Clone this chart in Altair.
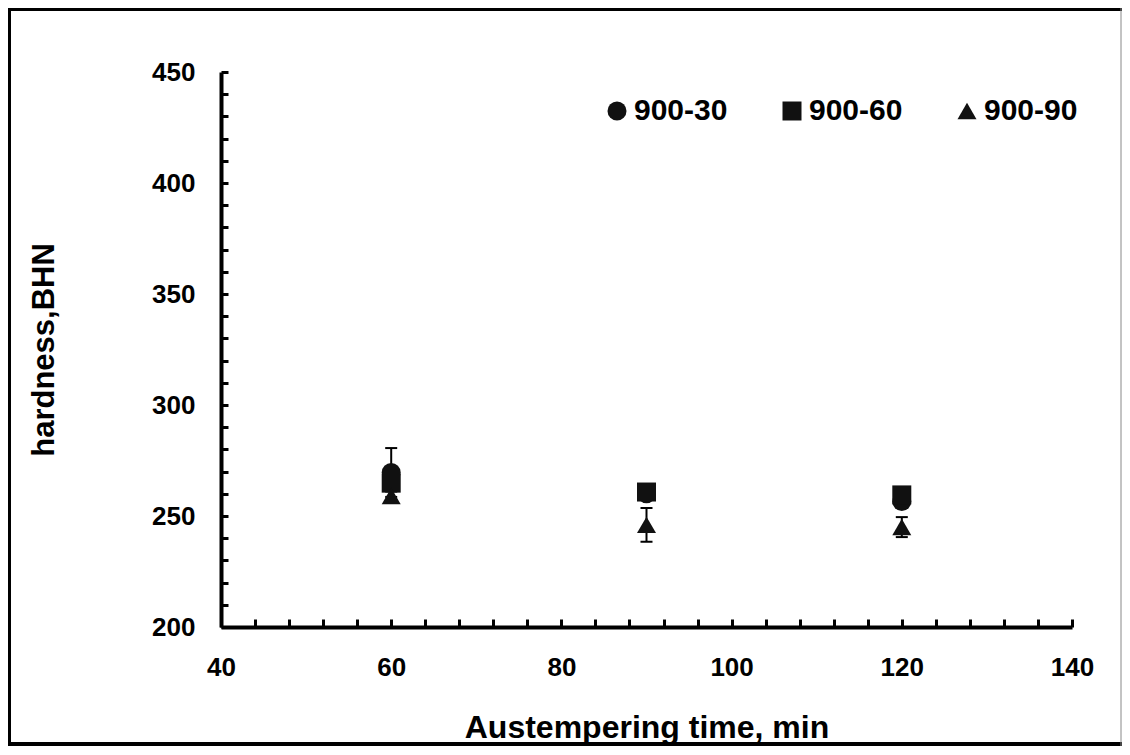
import altair as alt
import pandas as pd

# ---- data ----
times = [60, 90, 120]
series = ["900-30", "900-60", "900-90"]
h_900_30 = [269.6, 260.0, 256.5]
e_900_30 = [11.0, 2.0, 2.0]
h_900_60 = [264.8, 260.8, 259.5]
e_900_60 = [3.0, 2.0, 3.0]
h_900_90 = [259.0, 246.0, 245.0]
e_900_90 = [2.0, 7.6, 4.5]

x_label_ticks = [40, 60, 80, 100, 120, 140]
y_label_ticks = [200, 250, 300, 350, 400, 450]
x_minor_ticks = list(range(40, 141, 4))
y_minor_ticks = list(range(200, 451, 10))
shapes = ["circle", "square", "triangle-up"]

FONT = "Liberation Sans"
W, H = 851, 555

rows = []
for s, hs, es in zip(series, [h_900_30, h_900_60, h_900_90], [e_900_30, e_900_60, e_900_90]):
    for t, h, e in zip(times, hs, es):
        rows.append({"series": s, "time": t, "hardness": h, "low": h - e, "high": h + e})
df = pd.DataFrame(rows)
caps = pd.concat([
    df[["series", "time", "low"]].rename(columns={"low": "end"}),
    df[["series", "time", "high"]].rename(columns={"high": "end"}),
])

xs = alt.Scale(domain=[40, 140], nice=False, zero=False)
ys = alt.Scale(domain=[200, 450], nice=False, zero=False)

main_x_axis = alt.Axis(
    orient="bottom", values=x_label_ticks, grid=False, ticks=False, tickSize=0,
    domainColor="black", domainWidth=4, labelFont=FONT, labelFontSize=26,
    labelFontWeight="bold", labelColor="black", labelPadding=27, labelFlush=False,
    title="Austempering time, min", titleFont=FONT, titleFontSize=32,
    titleFontWeight="bold", titleColor="black", titleX=W / 2, titleY=110,
    titleBaseline="alphabetic", titleAnchor="middle", titleAlign="center",
)
main_y_axis = alt.Axis(
    orient="left", values=y_label_ticks, grid=False, ticks=False, tickSize=0,
    domainColor="black", domainWidth=4, labelFont=FONT, labelFontSize=26,
    labelFontWeight="bold", labelColor="black", labelPadding=26, labelFlush=False,
    title="hardness,BHN", titleFont=FONT, titleFontSize=31,
    titleFontWeight="bold", titleColor="black", titleX=-177, titleY=H / 2,
    titleAngle=-90, titleBaseline="middle", titleAlign="center",
)
tick_x_axis = alt.Axis(
    orient="top", offset=-H, values=x_minor_ticks, grid=False, labels=False,
    domain=False, ticks=True, tickSize=8, tickWidth=3, tickColor="black", title=None,
)
tick_y_axis = alt.Axis(
    orient="right", offset=-W, values=y_minor_ticks, grid=False, labels=False,
    domain=False, ticks=True, tickSize=7, tickWidth=3, tickColor="black", title=None,
)

err = alt.Chart(df).mark_rule(color="black", strokeWidth=2).encode(
    x=alt.X("time:Q", scale=xs, axis=main_x_axis),
    y=alt.Y("low:Q", scale=ys, axis=main_y_axis),
    y2="high:Q",
)
capmarks = alt.Chart(caps).mark_tick(orient="horizontal", size=12, thickness=2, color="black", opacity=1).encode(
    x=alt.X("time:Q", scale=xs, axis=tick_x_axis),
    y=alt.Y("end:Q", scale=ys, axis=tick_y_axis),
)
pts = alt.Chart(df).mark_point(filled=True, size=361, opacity=1, color="#111111").encode(
    x=alt.X("time:Q", scale=xs, axis=None),
    y=alt.Y("hardness:Q", scale=ys, axis=None),
    shape=alt.Shape(
        "series:N",
        scale=alt.Scale(domain=series, range=shapes),
        legend=alt.Legend(
            orient="none", legendX=381, legendY=24, direction="horizontal",
            title=None, labelFont=FONT, labelFontSize=30, labelFontWeight="bold",
            labelColor="black", symbolSize=361, symbolFillColor="black",
            symbolStrokeColor="black", symbolStrokeWidth=0, symbolOpacity=1,
            labelOffset=2, columnPadding=49, padding=0,
        ),
    ),
    order=alt.Order("series:N"),
)

one = pd.DataFrame({"k": [0]})
border_left = alt.Chart(one).mark_rule(color="black", strokeWidth=4).encode(
    x=alt.value(-212), y=alt.value(-65), y2=alt.value(673))
border_top = alt.Chart(one).mark_rule(color="black", strokeWidth=4).encode(
    x=alt.value(-214), x2=alt.value(901), y=alt.value(-63))
border_bottom = alt.Chart(one).mark_rule(color="black", strokeWidth=4).encode(
    x=alt.value(-214), x2=alt.value(901), y=alt.value(672))
border_right = alt.Chart(one).mark_rule(color="#888888", strokeWidth=1).encode(
    x=alt.value(900), y=alt.value(-65), y2=alt.value(674))

chart = alt.layer(
    border_left, border_top, border_bottom, border_right, err, capmarks, pts
).resolve_axis(x="independent", y="independent").properties(
    width=W, height=H,
    autosize=alt.AutoSizeParams(type="none"),
    padding={"left": 213, "top": 64, "right": 50, "bottom": 120},
    background="white",
).configure_view(stroke=None)

chart.save("out.html", embed_options={"renderer": "svg", "actions": False})
